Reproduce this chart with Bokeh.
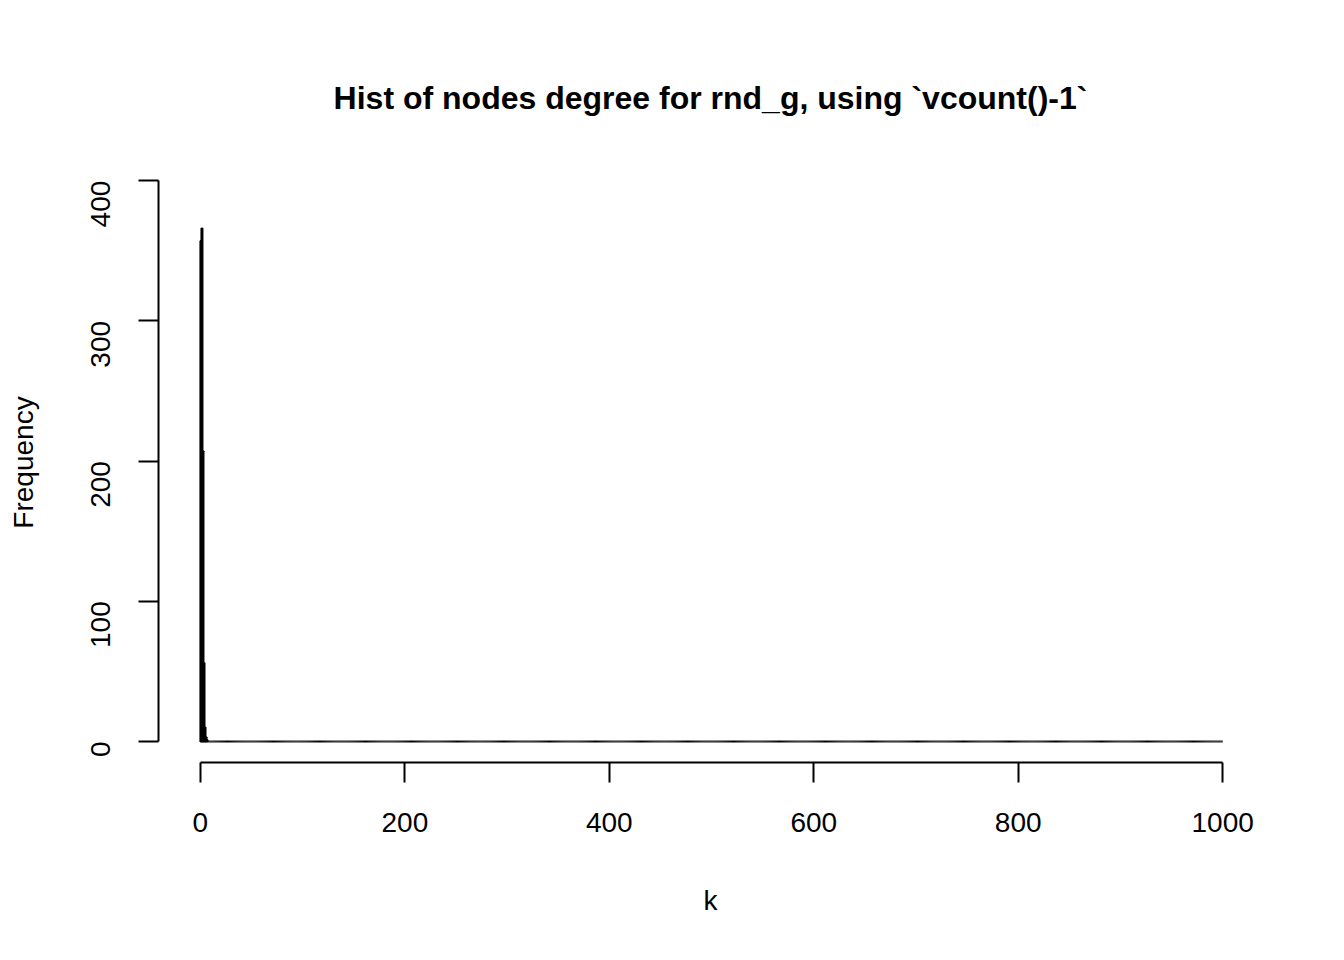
import numpy as np
from bokeh.plotting import figure
from bokeh.models import Range1d
from bokeh.embed import file_html
from bokeh.resources import INLINE

# degree counts for k = 0, 1, 2, ... (remaining bins up to 1000 are empty)
counts_head = [357, 366, 207, 56, 10, 3, 1]
n_bins = 1000
x_ticks = [0, 200, 400, 600, 800, 1000]
y_ticks = [0, 100, 200, 300, 400]

FONT = "Liberation Sans"


def main():
    counts = np.zeros(n_bins)
    counts[:len(counts_head)] = counts_head
    left = np.arange(n_bins)
    right = left + 1

    p = figure(width=1328, height=944, output_backend="svg", toolbar_location=None,
               x_range=Range1d(-41, 1039), y_range=Range1d(-15, 413),
               min_border_left=158, min_border_right=66,
               min_border_top=162, min_border_bottom=182,
               title="Hist of nodes degree for rnd_g, using `vcount()-1`")
    p.outline_line_color = None
    p.grid.visible = False
    p.title.align = "center"
    p.title.text_font = FONT
    p.title.text_font_size = "32px"
    p.title.text_font_style = "bold"
    p.title.text_color = "black"
    p.title.standoff = 93

    p.quad(left=left, right=right, bottom=0, top=counts,
           fill_color="white", line_color="black", line_width=2)

    for ax, ticks in ((p.xaxis, x_ticks), (p.yaxis, y_ticks)):
        ax.ticker = ticks
        ax.bounds = (ticks[0], ticks[-1])
        ax.axis_line_width = 2
        ax.major_tick_line_width = 2
        ax.minor_tick_line_color = None
        ax.major_tick_out = 20
        ax.major_tick_in = 0
        ax.major_label_text_font = FONT
        ax.major_label_text_font_size = "28px"
        ax.major_label_text_color = "black"
        ax.axis_label_text_font = FONT
        ax.axis_label_text_font_size = "28px"
        ax.axis_label_text_font_style = "normal"
        ax.axis_label_text_color = "black"
    p.xaxis.major_label_standoff = 30
    p.yaxis.major_label_standoff = 38
    p.xaxis.axis_label = "k"
    p.xaxis.axis_label_standoff = 50
    p.yaxis.axis_label = "Frequency"
    p.yaxis.axis_label_standoff = 40
    p.yaxis.major_label_orientation = np.pi / 2

    open("out.html", "w").write(file_html(p, INLINE))


if __name__ == "__main__":
    main()
